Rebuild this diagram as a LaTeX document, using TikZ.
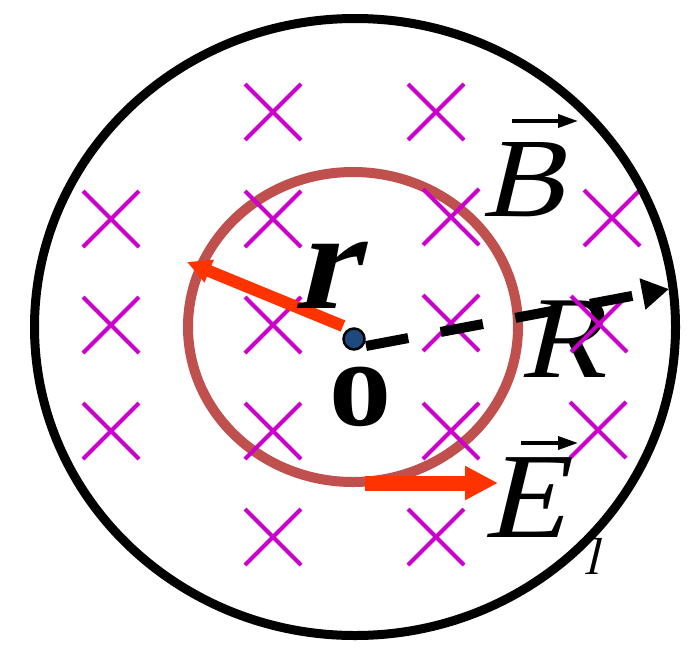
\documentclass[tikz,border=0pt]{standalone}
\usepackage{fontspec}
\setmainfont{Liberation Serif}
\newfontface\lbrm{Liberation Serif}
\newfontface\lbbf{Liberation Serif Bold}
\usetikzlibrary{arrows.meta}
\definecolor{crossmag}{RGB}{204,0,204}
\definecolor{loopred}{RGB}{192,80,77}
\definecolor{arrred}{RGB}{255,51,0}
\definecolor{dotblue}{RGB}{31,73,125}
\tikzset{
  xmark/.style={crossmag, line width=4pt},
  lbl/.style={inner sep=0pt, text=black},
  ital/.style={lbl, xslant=0.24},
  wide/.style={ital, xscale=1.1},
  vecarr/.style={line width=3.5pt, -{Triangle[length=20pt, width=13pt]}},
}
\newcommand{\fs}[1]{\fontsize{#1}{#1}\selectfont}
\begin{document}
\begin{tikzpicture}[x=1pt, y=-1pt]
\useasboundingbox (0,0) rectangle (692,653);
\fill[white] (0,0) rectangle (692,653);

% inner loop
\draw[loopred, line width=10pt] (353,327) ellipse [x radius=165, y radius=155];

% R and B labels (under the crosses)
\node[wide, font=\lbrm\fs{117}] (Rl) at (572,339) {R};
\node[wide, font=\lbrm\fs{113}] (Bl) at (532,180) {B};
\draw[vecarr] (512,121) -- (578,121);

% crosses
\foreach \cx/\cy in {273/112, 436/112,
                     111/219, 273/219, 451/217, 612/218,
                     111/325, 273/325, 451/323, 599/324,
                     111/431, 273/431, 451/431, 598/430,
                     273/537, 436/537}{
  \draw[xmark] (\cx-28,\cy-28) -- (\cx+28,\cy+28);
  \draw[xmark] (\cx-28,\cy+28) -- (\cx+28,\cy-28);
}

% centre
\coordinate (Rs) at (366,346);
\coordinate (Rt) at (669,289);
\draw[black, line width=10pt, dash pattern=on 43pt off 33pt,
      -{Triangle[length=27pt, width=30pt]}] (Rs) -- (Rt);

\coordinate (rs) at (343,326);
\coordinate (rt) at (187,262);
\draw[arrred, line width=12pt, -{Triangle[length=24pt, width=23pt]}] (rs) -- (rt);

\coordinate (Es) at (365,483);
\coordinate (Et) at (498,483);
\draw[arrred, line width=15pt, -{Triangle[length=33pt, width=32pt]}] (Es) -- (Et);

\node[ital, font=\lbbf\fs{140}] (rl) at (333,275) {r};
\node[lbl, font=\lbbf\fs{124}] (ol) at (360,397) {o};
\node[wide, font=\lbrm\fs{122}] (El) at (534,498) {E};
\draw[vecarr] (521,443) -- (578,443);

\node[circle, fill=dotblue, draw=black, line width=2.5pt, minimum size=21pt, inner sep=0pt] (O) at (354,339) {};

% outer boundary
\draw[black, line width=9pt] (355,327) ellipse [x radius=320.5, y radius=308.5];

\node[ital, font=\lbrm\fs{52}] (ll) at (596,556) {l};
\end{tikzpicture}
\end{document}
